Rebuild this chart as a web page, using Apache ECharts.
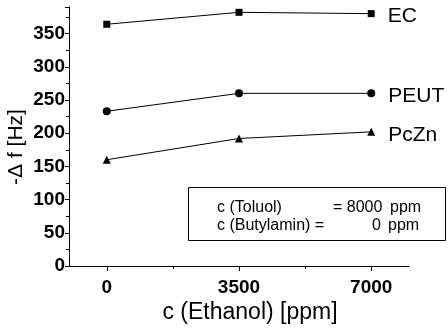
<!DOCTYPE html>
<html>
<head>
<meta charset="utf-8">
<script src="https://cdn.jsdelivr.net/npm/echarts@6/dist/echarts.min.js"></script>
<style>
  html, body { margin: 0; padding: 0; background: #fff; }
  #chart { width: 448px; height: 333px; }
</style>
</head>
<body>
<div id="chart"></div>
<script>
// ethanol concentration (ppm)
let ethanol = [0, 3500, 7000]
let ec = [364, 382, 380]
let peut = [233, 260, 260]
let pczn = [160, 192, 202]
let xTicks = [0, 3500, 7000]
let xMinorTicks = [1750, 5250]
let noteNames = ['c (Toluol)', 'c (Butylamin) =']
let noteValues = ['= 8000', '0']

let font = 'Liberation Sans, Arial, sans-serif'

function makeSeries (name, values, symbol, size) {
  return {
    name: name,
    type: 'line',
    xAxisIndex: 0,
    data: values.map((v, i) => [ethanol[i], v]),
    symbol: symbol,
    symbolSize: size,
    lineStyle: { color: '#000', width: 1 },
    itemStyle: { color: '#000' },
    label: {
      show: true,
      formatter: p => p.dataIndex === values.length - 1 ? name : '',
      position: 'right',
      distance: 13,
      offset: [0, 3],
      color: '#000',
      fontFamily: font,
      fontSize: 21
    },
    animation: false
  }
}

// plain text placed on the canvas
function text (x, y, str, size, align, rotation) {
  return {
    type: 'text',
    x: x,
    y: y,
    rotation: rotation || 0,
    style: {
      text: str,
      fill: '#000',
      font: size + 'px ' + font,
      textAlign: align || 'left',
      textVerticalAlign: 'middle'
    },
    z: 11
  }
}

let chart = echarts.init(document.getElementById('chart'))
chart.setOption({
  backgroundColor: '#fff',
  grid: { left: 69, top: 7, right: 39, bottom: 67 },
  xAxis: [{
    type: 'value',
    min: -1000,
    max: 8000,
    splitLine: { show: false },
    axisLine: { onZero: false, lineStyle: { color: '#000', width: 1 } },
    axisTick: { customValues: xTicks, length: 5, lineStyle: { color: '#000' } },
    axisLabel: {
      customValues: xTicks,
      formatter: v => String(v),
      color: '#000',
      fontFamily: font,
      fontWeight: 'bold',
      fontSize: 19,
      margin: 12
    }
  }, {
    type: 'value',
    position: 'bottom',
    min: -1000,
    max: 8000,
    splitLine: { show: false },
    axisLine: { show: false, onZero: false },
    axisTick: { customValues: xMinorTicks, length: 3, lineStyle: { color: '#000' } },
    axisLabel: { show: false }
  }],
  yAxis: {
    type: 'value',
    min: 0,
    max: 390,
    interval: 50,
    splitLine: { show: false },
    axisLine: { show: true, onZero: false, lineStyle: { color: '#000', width: 1 } },
    axisTick: { show: true, length: 4, lineStyle: { color: '#000' } },
    minorTick: { show: true, splitNumber: 2, length: 3, lineStyle: { color: '#000' } },
    axisLabel: {
      color: '#000',
      fontFamily: font,
      fontWeight: 'bold',
      fontSize: 19,
      margin: 4,
      showMaxLabel: false
    }
  },
  graphic: [{
    type: 'rect',
    shape: { x: 188.5, y: 187.5, width: 257, height: 53 },
    style: { fill: '#fff', stroke: '#000', lineWidth: 1 },
    z: 10
  },
  text(217, 208, noteNames[0], 16),
  text(217, 226, noteNames[1], 16),
  text(333, 208, noteValues[0], 16),
  text(381, 226, noteValues[1], 16, 'right'),
  text(390, 208, 'ppm', 16),
  text(388, 226, 'ppm', 16),
  // axis titles
  text(250, 313, 'c (Ethanol) [ppm]', 23, 'center'),
  text(16, 147, '-\u0394 f [Hz]', 21, 'center', Math.PI / 2)
  ],
  series: [
    makeSeries('EC', ec, 'rect', 7),
    makeSeries('PEUT', peut, 'circle', 8),
    makeSeries('PcZn', pczn, 'triangle', 8)
  ]
})
</script>
</body>
</html>
